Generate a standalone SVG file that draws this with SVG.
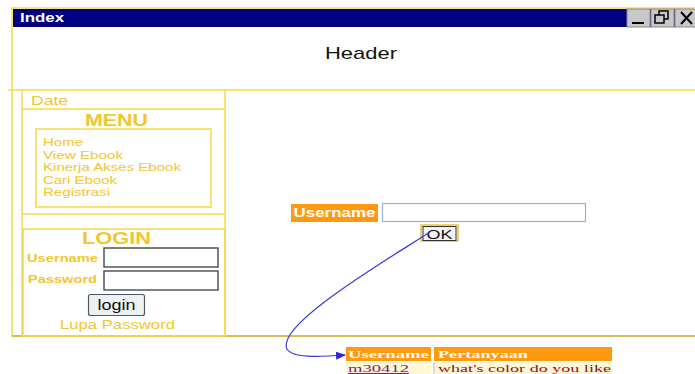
<svg xmlns="http://www.w3.org/2000/svg" width="695" height="374" viewBox="0 0 695 374">
<defs>
<style>
.ln{fill:none;stroke:#f7d84e;stroke-width:1.5}
text{font-family:"Liberation Sans",Arial,sans-serif}
.yt{fill:#f2c62e}
.yb{fill:#f2c62e;font-weight:bold}
.in{fill:#fff;stroke:#555;stroke-width:1.5}
.sf{font-family:"Liberation Serif","Times New Roman",serif;font-size:11px}
</style>
<marker id="ah" markerWidth="10" markerHeight="8" refX="9" refY="4" orient="auto" markerUnits="userSpaceOnUse">
<path d="M0,0 L10,4 L0,8 Z" fill="#2a2ad8"/>
</marker>
</defs>
<rect width="695" height="374" fill="#fff"/>
<g id="window">
<line class="ln" x1="11" y1="8" x2="695" y2="8"/>
<line class="ln" x1="12" y1="8" x2="12" y2="337"/>
<rect x="13" y="9" width="682" height="18" fill="#000080"/>
<text x="20" y="22" font-weight="bold" font-size="12" fill="#fff" textLength="44" lengthAdjust="spacingAndGlyphs">Index</text>
<rect x="627" y="9" width="23" height="18" fill="#c8c8c8" stroke="#888" stroke-width="1"/>
<line x1="632" y1="23" x2="644" y2="23" stroke="#000" stroke-width="2"/>
<rect x="651" y="9" width="23" height="18" fill="#c8c8c8" stroke="#888" stroke-width="1"/>
<rect x="659" y="11" width="9" height="8" fill="none" stroke="#000" stroke-width="1.5"/>
<rect x="655" y="15" width="9" height="8" fill="#c8c8c8" stroke="#000" stroke-width="1.5"/>
<rect x="675" y="9" width="22" height="18" fill="#c8c8c8" stroke="#888" stroke-width="1"/>
<path d="M681,12 L692,24 M692,12 L681,24" stroke="#000" stroke-width="2"/>
<line class="ln" x1="8" y1="90" x2="695" y2="90"/>
<line x1="12" y1="336" x2="695" y2="336" stroke="#d8be5a" stroke-width="2"/>
</g>
<g id="header">
<text x="361" y="59" text-anchor="middle" font-size="17" fill="#111" textLength="72" lengthAdjust="spacingAndGlyphs">Header</text>
</g>
<g id="sidebar">
<line class="ln" x1="22" y1="90" x2="22" y2="336"/>
<line class="ln" x1="225" y1="90" x2="225" y2="336"/>
<line class="ln" x1="22" y1="109" x2="225" y2="109"/>
<line class="ln" x1="22" y1="214" x2="225" y2="214"/>
</g>
<g id="date">
<text class="yt" x="31" y="105" font-size="13" textLength="37" lengthAdjust="spacingAndGlyphs">Date</text>
</g>
<g id="menu">
<text class="yb" x="116.5" y="126" font-size="17" text-anchor="middle" textLength="63" lengthAdjust="spacingAndGlyphs">MENU</text>
<rect class="ln" x="36" y="129" width="175" height="78"/>
<text class="yt" x="43" y="146" font-size="11.5" textLength="40" lengthAdjust="spacingAndGlyphs">Home</text>
<text class="yt" x="43" y="158.5" font-size="11.5" textLength="80" lengthAdjust="spacingAndGlyphs">View Ebook</text>
<text class="yt" x="43" y="171" font-size="11.5" textLength="138" lengthAdjust="spacingAndGlyphs">Kinerja Akses Ebook</text>
<text class="yt" x="43" y="183.5" font-size="11.5" textLength="74" lengthAdjust="spacingAndGlyphs">Cari Ebook</text>
<text class="yt" x="43" y="196" font-size="11.5" textLength="67" lengthAdjust="spacingAndGlyphs">Registrasi</text>
</g>
<g id="login">
<rect class="ln" x="23" y="229" width="202" height="107"/>
<text class="yb" x="116.5" y="244" font-size="17" text-anchor="middle" textLength="69" lengthAdjust="spacingAndGlyphs">LOGIN</text>
<text class="yb" x="27" y="262" font-size="11.5" textLength="71" lengthAdjust="spacingAndGlyphs">Username</text>
<rect class="in" x="104" y="248" width="114" height="19"/>
<text class="yb" x="28" y="283" font-size="11.5" textLength="69" lengthAdjust="spacingAndGlyphs">Password</text>
<rect class="in" x="104" y="271" width="114" height="19"/>
<rect x="88.5" y="294.5" width="56" height="21" rx="2" fill="#eef0f2" stroke="#4a5a6a" stroke-width="1.2"/>
<text x="116.5" y="310" text-anchor="middle" font-size="14" fill="#111" textLength="38" lengthAdjust="spacingAndGlyphs">login</text>
<text class="yt" x="117.5" y="329" font-size="13" text-anchor="middle" textLength="115" lengthAdjust="spacingAndGlyphs">Lupa Password</text>
</g>
<g id="form">
<rect x="291" y="204" width="87" height="18" fill="#ff9a10"/>
<text x="334.5" y="217" text-anchor="middle" font-weight="bold" font-size="12" fill="#fff" textLength="82" lengthAdjust="spacingAndGlyphs">Username</text>
<rect x="382.5" y="203.5" width="203" height="18" fill="#fff" stroke="#9ab4d8" stroke-width="1.2"/>
</g>
<g id="ok">
<rect x="421" y="225" width="37" height="16" fill="#fff6d8" stroke="#e8c24a" stroke-width="1.5"/>
<rect x="423" y="226.5" width="33" height="14" fill="#f4f4f4" stroke="#333" stroke-width="1"/>
<text x="439.5" y="238.5" text-anchor="middle" font-size="13" fill="#111" textLength="26" lengthAdjust="spacingAndGlyphs">OK</text>
</g>
<g id="connectors">
<path d="M430,232 C390,258 275,325 287,349 C292,358 318,357 345,355" fill="none" stroke="#3a3ad8" stroke-width="1.2" marker-end="url(#ah)"/>
</g>
<g id="table">
<rect x="346" y="347" width="85" height="14" fill="#ff9a10"/>
<rect x="434" y="347" width="178" height="14" fill="#ff9a10"/>
<text class="sf" x="348" y="358" fill="#fff" font-weight="bold" textLength="81" lengthAdjust="spacingAndGlyphs">Username</text>
<text class="sf" x="438" y="358" fill="#fff" font-weight="bold" textLength="90" lengthAdjust="spacingAndGlyphs">Pertanyaan</text>
<rect x="346" y="362" width="85" height="12" fill="#fff8d8"/>
<rect x="434" y="362" width="178" height="12" fill="#fff8d8"/>
<line x1="434" y1="362" x2="434" y2="374" stroke="#bbb" stroke-width="1"/>
<text class="sf" x="348" y="372" fill="#882266" text-decoration="underline" textLength="61" lengthAdjust="spacingAndGlyphs">m30412</text>
<text class="sf" x="438" y="372" fill="#991111" textLength="173" lengthAdjust="spacingAndGlyphs">what's color do you like</text>
</g>
</svg>
